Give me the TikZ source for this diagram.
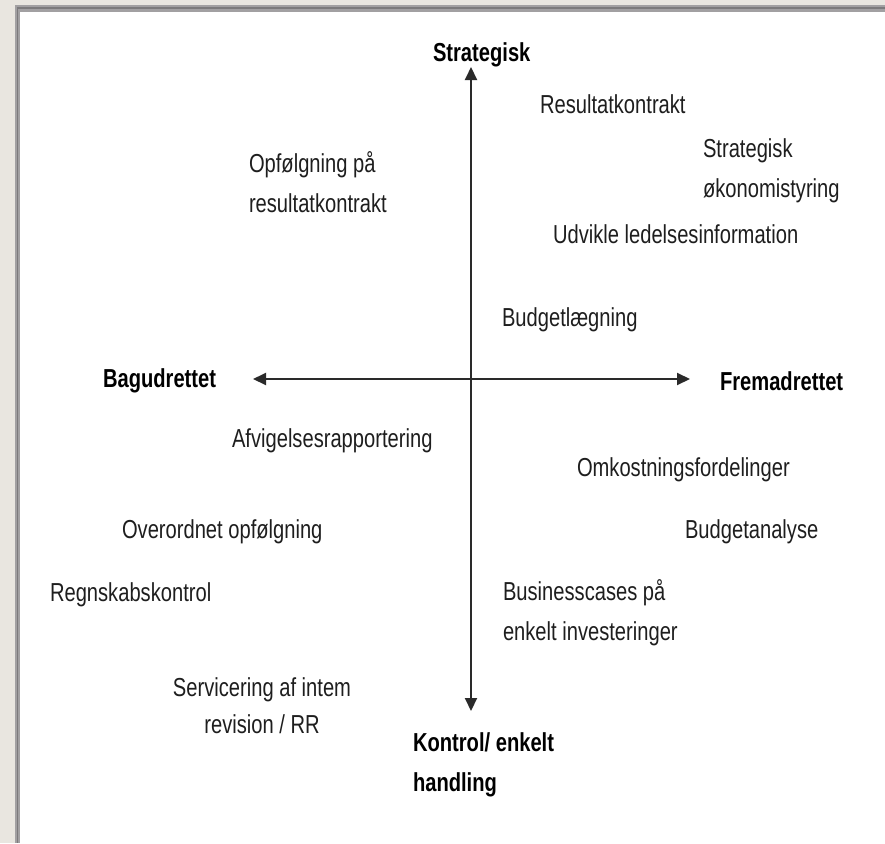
\documentclass[tikz,border=0pt]{standalone}
\usepackage{fontspec}
\setmainfont[FakeStretch=0.775]{Liberation Sans}
\usetikzlibrary{arrows.meta}
\definecolor{bgbeige}{HTML}{E9E6E0}
\definecolor{framegrey}{HTML}{A2A0A2}
\definecolor{framedark}{HTML}{7C7A7C}
\definecolor{txt}{HTML}{1E1E1E}
\definecolor{axiscol}{HTML}{2A2A2A}
\tikzset{
  lbl/.style={inner sep=0pt, outer sep=0pt, text=txt, font=\fontsize{26}{40}\selectfont, anchor=west},
  axlbl/.style={lbl, font=\fontsize{26}{40}\selectfont\bfseries, text=black},
  axisline/.style={draw=axiscol, line width=2pt, {Triangle[length=13pt,width=12pt]}-{Triangle[length=13pt,width=12pt]}}
}
\begin{document}
\begin{tikzpicture}[x=1pt,y=-1pt]
\useasboundingbox (0,0) rectangle (885,843);
% background and frame
\fill[bgbeige] (0,0) rectangle (885,843);
\fill[framegrey] (15,5) rectangle (885,843);
\fill[framedark] (16.5,7) rectangle (885,843);
\fill[framegrey] (18,9) rectangle (885,843);
\fill[white] (20,12) rectangle (885,843);
% axes
\coordinate (top) at (471,67);
\coordinate (bot) at (471,711);
\coordinate (lft) at (253,379);
\coordinate (rgt) at (690,379);
\draw[axisline] (bot) -- (top);
\draw[axisline] (lft) -- (rgt);
% axis labels
\node[axlbl] (strat) at (433,55) {Strategisk};
\node[axlbl] (bag) at (103,381) {Bagudrettet};
\node[axlbl] (frem) at (720,381) {Fremadrettet};
\node[axlbl, align=left] (kontrol) at (413,765) {Kontrol/ enkelt\\handling};
% items
\node[lbl] (res) at (540,104) {Resultatkontrakt};
\node[lbl, align=left] (sok) at (703,171) {Strategisk\\økonomistyring};
\node[lbl, align=left] (opf) at (249,182) {Opfølgning på\\resultatkontrakt};
\node[lbl] (udv) at (553,234) {Udvikle ledelsesinformation};
\node[lbl] (bud) at (502,320) {Budgetlægning};
\node[lbl] (afv) at (232,441) {Afvigelsesrapportering};
\node[lbl] (omk) at (577,470) {Omkostningsfordelinger};
\node[lbl] (ovr) at (122,532) {Overordnet opfølgning};
\node[lbl] (bana) at (685,532) {Budgetanalyse};
\node[lbl] (regn) at (50,595) {Regnskabskontrol};
\node[lbl, align=left] (bus) at (503,613) {Businesscases på\\enkelt investeringer};
\node[lbl, align=center, anchor=center, font=\fontsize{26}{37}\selectfont] (serv) at (262,706) {Servicering af intem\\revision / RR};
\end{tikzpicture}
\end{document}
